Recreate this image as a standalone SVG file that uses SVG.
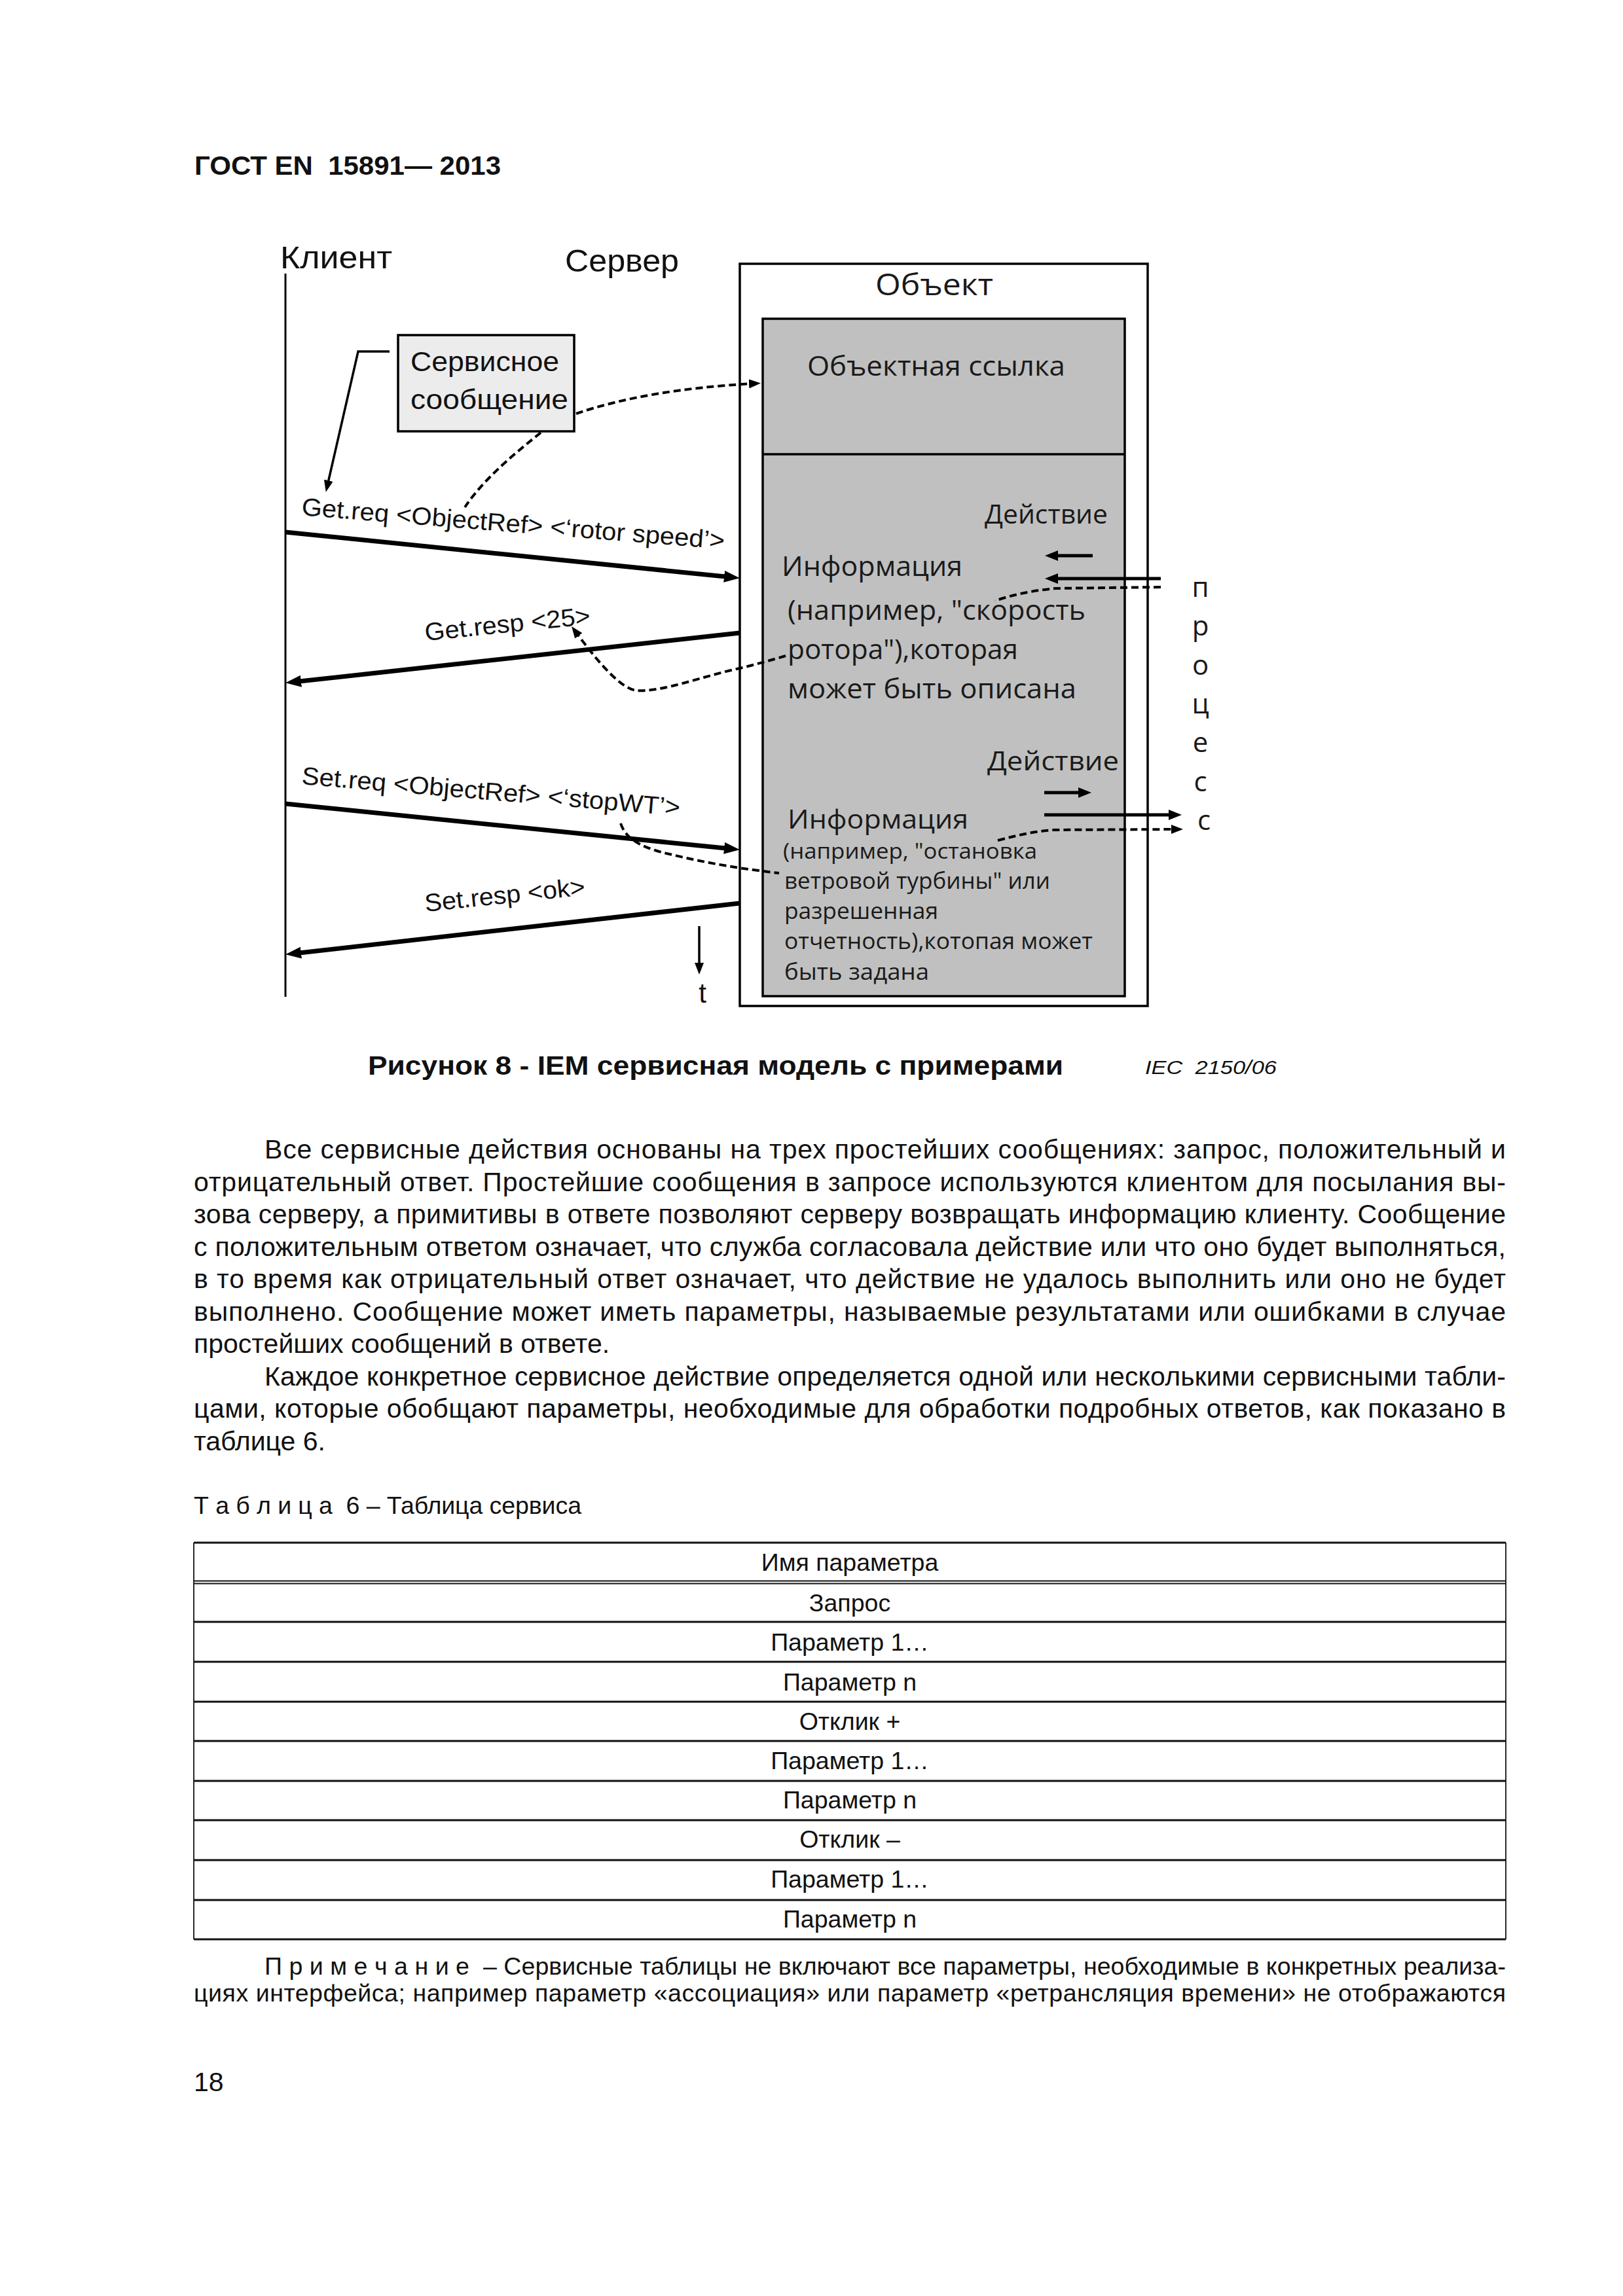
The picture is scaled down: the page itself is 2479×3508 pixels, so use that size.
<svg xmlns="http://www.w3.org/2000/svg" width="2479" height="3508" viewBox="0 0 2479 3508">
<defs>
<style>
.sans{font-family:"Liberation Sans",Arial,sans-serif;fill:#111}
.body{font-size:41px}
.small{font-size:37.5px}
.hum{font-family:"Open Sans","Noto Sans",sans-serif;fill:#1a1a1a}
.lbl{font-family:"Liberation Sans",Arial,sans-serif;font-size:38px;fill:#111}
.thick{stroke:#000;stroke-width:7;fill:none}
.mid{stroke:#000;stroke-width:5;fill:none}
.thin{stroke:#000;stroke-width:3.5;fill:none}
.dash{stroke:#000;stroke-width:4;stroke-dasharray:11 6;fill:none}
.rule{stroke:#111;stroke-width:3}
.rulethin{stroke:#111;stroke-width:1.8}
</style>
<marker id="big" viewBox="0 0 24 18" markerUnits="userSpaceOnUse" markerWidth="24" markerHeight="18" refX="12" refY="9" orient="auto"><path d="M0,0 L24,9 L0,18 z" fill="#000"/></marker>
<marker id="med" viewBox="0 0 20 16" markerUnits="userSpaceOnUse" markerWidth="20" markerHeight="16" refX="10" refY="8" orient="auto"><path d="M0,0 L20,8 L0,16 z" fill="#000"/></marker>
<marker id="sm" viewBox="0 0 18 14" markerUnits="userSpaceOnUse" markerWidth="18" markerHeight="14" refX="8" refY="7" orient="auto"><path d="M0,0 L18,7 L0,14 z" fill="#000"/></marker>
</defs>
<rect width="2479" height="3508" fill="#fff"/>

<text class="sans" x="297" y="267" font-size="41" font-weight="bold" xml:space="preserve" textLength="468" lengthAdjust="spacingAndGlyphs">ГОСТ EN  15891— 2013</text>

<g id="client">
<text class="sans" x="428" y="410" font-size="48" textLength="171" lengthAdjust="spacingAndGlyphs">Клиент</text>
<line x1="436" y1="418" x2="436" y2="1523" stroke="#000" stroke-width="3"/>
</g>
<g id="server">
<text class="sans" x="863" y="415" font-size="48" textLength="174" lengthAdjust="spacingAndGlyphs">Сервер</text>
</g>

<g id="object">
<rect x="1130" y="403" width="623" height="1134" fill="#fff" stroke="#000" stroke-width="3.5"/>
<rect x="1165" y="487" width="553" height="1035" fill="#c0c0c0" stroke="#000" stroke-width="3.5"/>
<line x1="1165" y1="694" x2="1718" y2="694" stroke="#000" stroke-width="3.5"/>
<text class="hum" x="1337" y="451" font-size="45" textLength="180" lengthAdjust="spacingAndGlyphs">Объект</text>
<text class="hum" x="1233" y="574" font-size="42" textLength="394" lengthAdjust="spacingAndGlyphs">Объектная ссылка</text>
<text class="hum" x="1504" y="800" font-size="41" textLength="188" lengthAdjust="spacingAndGlyphs">Действие</text>
<text class="hum" x="1194" y="880" font-size="42" textLength="276" lengthAdjust="spacingAndGlyphs">Информация</text>
<text class="hum" x="1203" y="947" font-size="42" textLength="455" lengthAdjust="spacingAndGlyphs">(например, "скорость</text>
<text class="hum" x="1203" y="1007" font-size="42" textLength="352" lengthAdjust="spacingAndGlyphs">ротора"),которая</text>
<text class="hum" x="1203" y="1067" font-size="42" textLength="441" lengthAdjust="spacingAndGlyphs">может быть описана</text>
<text class="hum" x="1508" y="1177" font-size="41" textLength="201" lengthAdjust="spacingAndGlyphs">Действие</text>
<text class="hum" x="1203" y="1266" font-size="40" textLength="276" lengthAdjust="spacingAndGlyphs">Информация</text>
<text class="hum" x="1196" y="1312" font-size="33" textLength="388" lengthAdjust="spacingAndGlyphs">(например, "остановка</text>
<text class="hum" x="1198" y="1358" font-size="35" textLength="406" lengthAdjust="spacingAndGlyphs">ветровой турбины" или</text>
<text class="hum" x="1198" y="1404" font-size="35" textLength="235" lengthAdjust="spacingAndGlyphs">разрешенная</text>
<text class="hum" x="1198" y="1450" font-size="35" textLength="471" lengthAdjust="spacingAndGlyphs">отчетность),котопая может</text>
<text class="hum" x="1198" y="1497" font-size="35" textLength="221" lengthAdjust="spacingAndGlyphs">быть задана</text>
</g>

<g id="service-message">
<rect x="608" y="512" width="269" height="147" fill="#ececec" stroke="#000" stroke-width="3.5"/>
<text class="sans" x="627" y="567" font-size="43" textLength="227" lengthAdjust="spacingAndGlyphs">Сервисное</text>
<text class="sans" x="627" y="625" font-size="43" textLength="241" lengthAdjust="spacingAndGlyphs">сообщение</text>
</g>

<g id="process">
<text class="hum" font-size="42" text-anchor="middle">
<tspan x="1839" y="912">п</tspan>
<tspan x="1839" y="971">р</tspan>
<tspan x="1839" y="1031">о</tspan>
<tspan x="1839" y="1090">ц</tspan>
<tspan x="1839" y="1149">е</tspan>
<tspan x="1839" y="1209">с</tspan>
<tspan x="1839" y="1268">с</tspan>
</text>
</g>

<g id="time">
<text class="sans" x="1073" y="1532" font-size="42" text-anchor="middle">t</text>
</g>

<g id="labels">
<text class="lbl" transform="translate(460,787) rotate(4.6)" textLength="648" lengthAdjust="spacingAndGlyphs">Get.req &lt;ObjectRef&gt; &lt;‘rotor speed’&gt;</text>
<text class="lbl" transform="translate(650,979) rotate(-5.8)" textLength="254" lengthAdjust="spacingAndGlyphs">Get.resp &lt;25&gt;</text>
<text class="lbl" transform="translate(460,1198) rotate(4.8)" textLength="580" lengthAdjust="spacingAndGlyphs">Set.req &lt;ObjectRef&gt; &lt;‘stopWT’&gt;</text>
<text class="lbl" transform="translate(650,1393) rotate(-6)" textLength="246" lengthAdjust="spacingAndGlyphs">Set.resp &lt;ok&gt;</text>
</g>

<g id="connectors">
<line class="thick" x1="436" y1="813" x2="1118" y2="882" marker-end="url(#big)"/>
<line class="thick" x1="1130" y1="967" x2="448" y2="1042" marker-end="url(#big)"/>
<line class="thick" x1="436" y1="1228" x2="1118" y2="1297" marker-end="url(#big)"/>
<line class="thick" x1="1130" y1="1380" x2="448" y2="1457" marker-end="url(#big)"/>
<path class="thin" d="M595,537 L547,537 L500,742" marker-end="url(#sm)"/>
<path class="dash" d="M880,632 C950,608 1040,592 1152,586" marker-end="url(#sm)"/>
<path class="dash" d="M826,661 C790,690 740,730 710,775"/>
<path class="mid" d="M1669,849 L1606,849" marker-end="url(#med)"/>
<path class="mid" d="M1773,884 L1606,884" marker-end="url(#med)"/>
<path class="dash" d="M1773,897 L1612,899 C1580,902 1548,908 1520,918 M1200,1002 C1180,1008 1155,1015 1130,1021 C1070,1034 1010,1058 972,1055 C945,1052 905,1000 879,965" marker-end="url(#sm)"/>
<path class="mid" d="M1595,1211 L1657,1211" marker-end="url(#med)"/>
<path class="mid" d="M1595,1245 L1795,1245" marker-end="url(#med)"/>
<path class="dash" d="M948,1258 C955,1280 975,1292 1010,1302 C1060,1314 1110,1325 1190,1334 M1524,1284 C1555,1276 1580,1270 1610,1268 L1797,1267" marker-end="url(#sm)"/>
<line class="thin" x1="1068" y1="1415" x2="1068" y2="1479" marker-end="url(#sm)"/>
</g>

<g id="caption">
<text class="sans" x="562" y="1642" font-size="41" font-weight="bold" textLength="1062" lengthAdjust="spacingAndGlyphs">Рисунок 8 - IEM сервисная модель с примерами</text>
<text class="sans" x="1749" y="1641" font-size="29" font-style="italic" fill="#444" xml:space="preserve" textLength="201" lengthAdjust="spacingAndGlyphs">IEC  2150/06</text>
</g>

<g id="body" class="sans body">
<text x="404" y="1770" textLength="1896" lengthAdjust="spacing">Все сервисные действия основаны на трех простейших сообщениях: запрос, положительный и</text>
<text x="296" y="1819.5" textLength="2004" lengthAdjust="spacing">отрицательный ответ. Простейшие сообщения в запросе используются клиентом для посылания вы-</text>
<text x="296" y="1869" textLength="2004" lengthAdjust="spacing">зова серверу, а примитивы в ответе позволяют серверу возвращать информацию клиенту. Сообщение</text>
<text x="296" y="1918.5" textLength="2004" lengthAdjust="spacing">с положительным ответом означает, что служба согласовала действие или что оно будет выполняться,</text>
<text x="296" y="1968" textLength="2004" lengthAdjust="spacing">в то время как отрицательный ответ означает, что действие не удалось выполнить или оно не будет</text>
<text x="296" y="2017.5" textLength="2004" lengthAdjust="spacing">выполнено. Сообщение может иметь параметры, называемые результатами или ошибками в случае</text>
<text x="296" y="2067">простейших сообщений в ответе.</text>
<text x="404" y="2116.5" textLength="1896" lengthAdjust="spacing">Каждое конкретное сервисное действие определяется одной или несколькими сервисными табли-</text>
<text x="296" y="2166" textLength="2004" lengthAdjust="spacing">цами, которые обобщают параметры, необходимые для обработки подробных ответов, как показано в</text>
<text x="296" y="2215.5">таблице 6.</text>
</g>

<g id="table">
<text class="sans small" x="296" y="2313" xml:space="preserve" textLength="592" lengthAdjust="spacing">Т а б л и ц а  6 – Таблица сервиса</text>
<line class="rule" x1="296" y1="2357" x2="2300" y2="2357"/>
<line class="rulethin" x1="296" y1="2415.5" x2="2300" y2="2415.5"/>
<line class="rulethin" x1="296" y1="2419.5" x2="2300" y2="2419.5"/>
<line class="rule" x1="296" y1="2478" x2="2300" y2="2478"/>
<line class="rule" x1="296" y1="2539" x2="2300" y2="2539"/>
<line class="rule" x1="296" y1="2600" x2="2300" y2="2600"/>
<line class="rule" x1="296" y1="2660" x2="2300" y2="2660"/>
<line class="rule" x1="296" y1="2721" x2="2300" y2="2721"/>
<line class="rule" x1="296" y1="2781" x2="2300" y2="2781"/>
<line class="rule" x1="296" y1="2842" x2="2300" y2="2842"/>
<line class="rule" x1="296" y1="2903" x2="2300" y2="2903"/>
<line class="rule" x1="296" y1="2963" x2="2300" y2="2963"/>
<line class="rulethin" x1="296" y1="2357" x2="296" y2="2963"/>
<line class="rulethin" x1="2300" y1="2357" x2="2300" y2="2963"/>
<g class="sans small" text-anchor="middle">
<text x="1298" y="2400">Имя параметра</text>
<text x="1298" y="2462">Запрос</text>
<text x="1298" y="2522">Параметр 1…</text>
<text x="1298" y="2583">Параметр n</text>
<text x="1298" y="2643">Отклик +</text>
<text x="1298" y="2703">Параметр 1…</text>
<text x="1298" y="2763">Параметр n</text>
<text x="1298" y="2823">Отклик –</text>
<text x="1298" y="2884">Параметр 1…</text>
<text x="1298" y="2945">Параметр n</text>
</g>
</g>

<g id="note" class="sans small">
<text x="404" y="3017" xml:space="preserve" textLength="1896" lengthAdjust="spacing">П р и м е ч а н и е  – Сервисные таблицы не включают все параметры, необходимые в конкретных реализа-</text>
<text x="296" y="3058" textLength="2004" lengthAdjust="spacing">циях интерфейса; например параметр «ассоциация» или параметр «ретрансляция времени» не отображаются</text>
</g>

<text class="sans body" x="296" y="3195">18</text>
</svg>
